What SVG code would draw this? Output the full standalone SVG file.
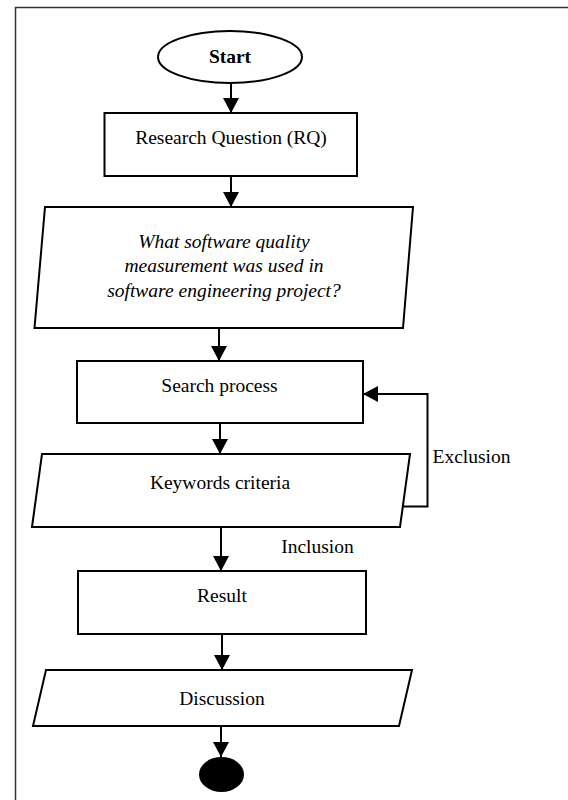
<svg xmlns="http://www.w3.org/2000/svg" width="568" height="800" viewBox="0 0 568 800">
<defs>
<marker id="ah" markerWidth="16" markerHeight="16" refX="15" refY="8" orient="auto" markerUnits="userSpaceOnUse" viewBox="0 0 16 16">
<path d="M0,0 L15,8 L0,16 Z" fill="#000"/>
</marker>
<style>
.sh{fill:#fff;stroke:#000;stroke-width:2}
.t{font-family:"Liberation Serif","Times New Roman",serif;font-size:19.5px;fill:#000;text-anchor:middle}
.it{font-style:italic}
.b{font-weight:bold}
.c{fill:none;stroke:#000;stroke-width:2;marker-end:url(#ah)}
</style>
</defs>
<rect width="568" height="800" fill="#fff"/>
<path d="M15.5,800 V7.5 H568" fill="none" stroke="#333" stroke-width="1.5"/>
<g id="connectors">
<path class="c" d="M231,83 V113"/>
<path class="c" d="M231,176 V207"/>
<path class="c" d="M219,328 V361"/>
<path class="c" d="M220,423 V454"/>
<path class="c" d="M221,527 V571"/>
<path class="c" d="M222,634 V670"/>
<path class="c" d="M221,726 V757"/>
<path class="c" d="M403,506.5 H427.5 V394 H363"/>
<text class="t" x="471.5" y="463">Exclusion</text>
<text class="t" x="317.5" y="553">Inclusion</text>
</g>
<g id="start">
<ellipse class="sh" cx="230" cy="57" rx="72" ry="26"/>
<text class="t b" x="230" y="63">Start</text>
</g>
<g id="rq">
<rect class="sh" x="104.5" y="113" width="252.5" height="63"/>
<text class="t" x="231" y="144">Research Question (RQ)</text>
</g>
<g id="question">
<polygon class="sh" points="45,207 413,207 403,328 34.5,328"/>
<text class="t it" x="224" y="248">What software quality</text>
<text class="t it" x="224" y="272">measurement was used in</text>
<text class="t it" x="224" y="297">software engineering project?</text>
</g>
<g id="search">
<rect class="sh" x="77" y="361" width="286" height="62"/>
<text class="t" x="219.5" y="392">Search process</text>
</g>
<g id="keywords">
<polygon class="sh" points="42,454 410,454 400,527 32,527"/>
<text class="t" x="220" y="489">Keywords criteria</text>
</g>
<g id="result">
<rect class="sh" x="78" y="571" width="288" height="63"/>
<text class="t" x="222" y="602">Result</text>
</g>
<g id="discussion">
<polygon class="sh" points="46,670 412,670 399,726 33,726"/>
<text class="t" x="222" y="705">Discussion</text>
</g>
<g id="end">
<ellipse cx="221.5" cy="774.5" rx="22.5" ry="17.5" fill="#000"/>
</g>
</svg>
